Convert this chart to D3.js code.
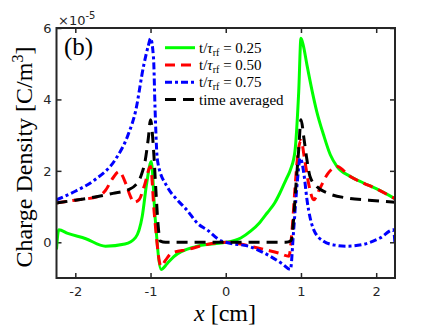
<!DOCTYPE html>
<html>
<head>
<meta charset="utf-8">
<script src="https://cdn.jsdelivr.net/npm/d3@7"></script>
<style>
  body { margin: 0; background: #fff; }
  svg { display: block; }
  .tick text { font-family: "DejaVu Sans", sans-serif; font-size: 13px; fill: #262626; }
</style>
</head>
<body>
<svg width="436" height="327"></svg>
<script>
// charge density curves, units of 1e-5 C/m^3, x in cm
const greenX = [-2.25, -2.22, -2.1, -1.86, -1.6, -1.34, -1.2, -1.11, -1.05, -0.99, -0.94, -0.86, -0.78, -0.69, -0.4, -0.15, 0, 0.2, 0.33, 0.45, 0.55, 0.65, 0.72, 0.8, 0.86, 0.92, 0.97, 1.0, 1.03, 1.08, 1.15, 1.21, 1.3, 1.39, 1.48, 1.65, 1.83, 2.0, 2.25];
const greenY = [-0.2, 0.35, 0.25, 0.1, -0.11, -0.05, 0.13, 0.73, 1.67, 2.26, 0.73, -0.76, -0.6, -0.4, -0.12, -0.04, 0, 0.12, 0.31, 0.55, 0.82, 1.1, 1.38, 1.75, 2.03, 2.55, 4.22, 5.71, 5.52, 4.96, 4.22, 3.66, 3.01, 2.45, 2.12, 1.85, 1.66, 1.5, 1.22];

const redX = [-2.25, -2.0, -1.7, -1.6, -1.5, -1.42, -1.33, -1.27, -1.22, -1.15, -1.08, -1.0, -0.95, -0.86, -0.8, -0.72, -0.5, -0.25, 0, 0.37, 0.55, 0.7, 0.84, 0.88, 0.92, 0.96, 1.0, 1.05, 1.1, 1.17, 1.25, 1.35, 1.43, 1.48, 1.65, 1.83, 2.0, 2.25];
const redY = [1.1, 1.18, 1.28, 1.45, 1.8, 1.98, 1.65, 1.3, 1.12, 1.2, 1.6, 2.12, 0.8, -0.67, -0.5, -0.3, -0.2, -0.06, 0, -0.13, -0.22, -0.3, -0.39, 0.3, 1.5, 2.5, 2.85, 2.3, 1.66, 1.19, 1.5, 1.9, 2.08, 2.12, 1.85, 1.66, 1.5, 1.22];

const blueX = [-2.25, -2.0, -1.74, -1.47, -1.3, -1.2, -1.09, -1.03, -1.0, -0.96, -0.94, -0.915, -0.9, -0.78, -0.65, -0.52, -0.36, -0.25, -0.07, 0, 0.33, 0.59, 0.75, 0.86, 0.9, 0.95, 0.99, 1.04, 1.08, 1.17, 1.3, 1.45, 1.61, 1.83, 2.05, 2.23, 2.25];
const blueY = [1.19, 1.43, 1.75, 2.31, 3.0, 3.66, 4.96, 5.5, 5.71, 5.15, 3.75, 2.45, 2.2, 1.56, 1.2, 0.91, 0.5, 0.35, 0.05, 0, -0.13, -0.39, -0.6, -0.76, 0.26, 1.66, 2.36, 1.9, 1.19, 0.35, 0.03, -0.08, -0.11, -0.06, 0.12, 0.35, -0.06];

const blackX = [-2.25, -2.0, -1.7, -1.5, -1.3, -1.2, -1.13, -1.07, -1.03, -1.0, -0.96, -0.93, -0.9, -0.87, -0.8, 0, 0.8, 0.87, 0.9, 0.93, 0.97, 1.0, 1.04, 1.08, 1.12, 1.21, 1.35, 1.61, 1.9, 2.25];
const blackY = [1.1, 1.18, 1.28, 1.37, 1.47, 1.6, 1.84, 2.3, 2.9, 3.43, 2.6, 1.5, 0.5, 0.03, 0, 0, 0, 0.05, 0.6, 1.5, 2.6, 3.43, 2.9, 2.3, 1.84, 1.56, 1.38, 1.24, 1.18, 1.12];

const xTicks = [-2, -1, 0, 1, 2];
const yTicks = [0, 2, 4, 6];
const legendValues = ["0.25", "0.50", "0.75"];

const svg = d3.select("svg");
const plotLeft = 56.5, plotRight = 395, plotTop = 28, plotBottom = 278;

const x = d3.scaleLinear().domain([-2.25, 2.25]).range([plotLeft, plotRight]);
const y = d3.scaleLinear().domain([-1, 6]).range([plotBottom, plotTop]);

svg.append("defs").append("clipPath").attr("id", "plot-clip")
    .append("rect")
    .attr("x", plotLeft).attr("y", plotTop)
    .attr("width", plotRight - plotLeft).attr("height", plotBottom - plotTop);

// axes, ticks pointing inward; plain hyphen for negatives like the original
const axisColor = "#262626";
const plainFormat = d => String(d);
svg.append("g").attr("transform", `translate(0,${plotBottom})`)
    .call(d3.axisBottom(x).tickValues(xTicks).tickFormat(plainFormat).tickSizeInner(-5).tickSizeOuter(0).tickPadding(9));
svg.append("g").attr("transform", `translate(0,${plotTop})`)
    .call(d3.axisTop(x).tickValues(xTicks).tickSizeInner(-5).tickSizeOuter(0).tickFormat(""));
svg.append("g").attr("transform", `translate(${plotLeft},0)`)
    .call(d3.axisLeft(y).tickValues(yTicks).tickFormat(plainFormat).tickSizeInner(-5).tickSizeOuter(0).tickPadding(5));
svg.append("g").attr("transform", `translate(${plotRight},0)`)
    .call(d3.axisRight(y).tickValues(yTicks).tickSizeInner(-5).tickSizeOuter(0).tickFormat(""));

svg.selectAll(".domain").remove();
svg.selectAll(".tick line").attr("stroke", axisColor).attr("stroke-width", 1.5);

// curves
const line = d3.line().x(d => x(d[0])).y(d => y(d[1])).curve(d3.curveMonotoneX);
const series = [
    { xs: greenX, ys: greenY, color: "#00ff00", dash: null },
    { xs: redX, ys: redY, color: "#ff0000", dash: "10,6" },
    { xs: blueX, ys: blueY, color: "#0000ff", dash: "7,3,3,3" },
    { xs: blackX, ys: blackY, color: "#000000", dash: "11,7" }
];

const plot = svg.append("g").attr("clip-path", "url(#plot-clip)");
series.forEach(s => {
    plot.append("path")
        .datum(s.xs.map((v, i) => [v, s.ys[i]]))
        .attr("d", line)
        .attr("fill", "none")
        .attr("stroke", s.color)
        .attr("stroke-width", 3)
        .attr("stroke-dasharray", s.dash);
});

// box
svg.append("rect")
    .attr("x", plotLeft).attr("y", plotTop)
    .attr("width", plotRight - plotLeft).attr("height", plotBottom - plotTop)
    .attr("fill", "none").attr("stroke", axisColor).attr("stroke-width", 2);

// legend
const serif = "'Liberation Serif', serif";
const legend = svg.append("g");
series.forEach((s, i) => {
    const ly = 47.7 + i * 17.3;
    legend.append("line")
        .attr("x1", 165).attr("x2", 195).attr("y1", ly).attr("y2", ly)
        .attr("stroke", s.color).attr("stroke-width", 3)
        .attr("stroke-dasharray", s.dash);
    const t = legend.append("text")
        .attr("x", 199).attr("y", ly + 5)
        .attr("font-family", serif).attr("font-size", 15).attr("fill", "#000");
    if (i < 3) {
        t.append("tspan").text("t/");
        t.append("tspan").attr("font-style", "italic").text("τ");
        t.append("tspan").attr("font-size", 10).attr("dy", 3).text("rf");
        t.append("tspan").attr("dy", -3).text(" = " + legendValues[i]);
    } else {
        t.text("time averaged");
    }
});

// panel label
svg.append("text")
    .attr("x", 64).attr("y", 55)
    .attr("font-family", serif).attr("font-size", 25)
    .text("(b)");

// exponent label
const ex = svg.append("text")
    .attr("x", 58).attr("y", 25)
    .attr("font-family", "'DejaVu Sans', sans-serif").attr("font-size", 13).attr("fill", axisColor);
ex.append("tspan").text("×10");
ex.append("tspan").attr("font-size", 10).attr("dy", -6).text("-5");

// axis titles
const xl = svg.append("text")
    .attr("x", 225).attr("y", 321)
    .attr("text-anchor", "middle")
    .attr("font-family", serif).attr("font-size", 24).attr("fill", "#000");
xl.append("tspan").attr("font-style", "italic").text("x");
xl.append("tspan").text(" [cm]");

const yl = svg.append("text")
    .attr("transform", "translate(32,157) rotate(-90)")
    .attr("text-anchor", "middle")
    .attr("font-family", serif).attr("font-size", 24).attr("fill", "#000");
yl.append("tspan").text("Charge Density [C/m");
yl.append("tspan").attr("font-size", 16).attr("dy", -9).text("3");
yl.append("tspan").attr("dy", 9).text("]");
</script>
</body>
</html>
